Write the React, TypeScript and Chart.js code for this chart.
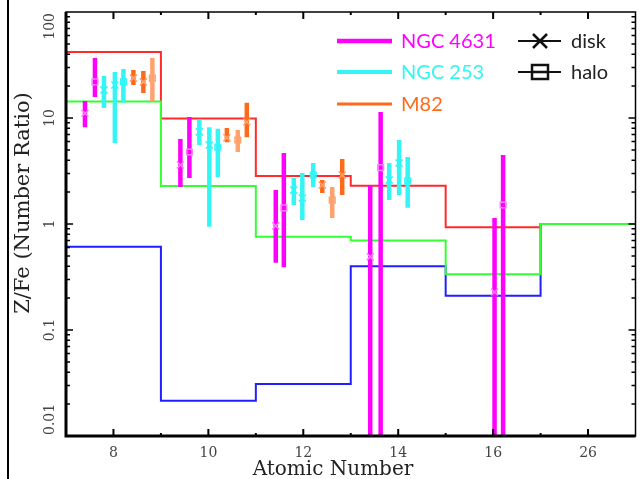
import React, { useEffect, useRef } from 'react';
import { Chart, registerables } from 'chart.js';

Chart.register(...registerables);

// ---- axis ticks ----
const xTickValues = [8, 10, 12, 14, 16, 18];
const xTickLabels = ['8', '10', '12', '14', '16', '26'];
const yTickValues = [0.01, 0.1, 1, 10, 100];
const yTickLabels = ['0.01', '0.1', '1', '10', '100'];

// ---- model step lines (bin edges in atomic-number space) ----
const stepEdges = [7, 9, 11, 13, 15, 17, 19];
const redSteps = [42, 9.9, 2.84, 2.3, 0.93, 1];
const greenSteps = [14.3, 2.28, 0.76, 0.7, 0.335, 1];
const blueSteps = [0.61, 0.0215, 0.031, 0.4, 0.21, 1];

// ---- NGC 4631 ----
const n4631X = [7.4, 7.61, 9.41, 9.6, 11.42, 11.59, 13.41, 13.63, 16.03, 16.21];
const n4631Y = [11.1, 21.9, 3.6, 4.78, 0.96, 1.42, 0.49, 3.4, 0.228, 1.51];
const n4631Lo = [8.2, 15.8, 2.23, 2.72, 0.43, 0.39, 0.005, 0.005, 0.005, 0.005];
const n4631Hi = [14.5, 36.8, 6.34, 10.2, 2.09, 4.67, 2.33, 11.4, 1.14, 4.48];
const n4631Kind = ['disk', 'halo', 'disk', 'halo', 'disk', 'halo', 'disk', 'halo', 'disk', 'halo'];

// ---- NGC 253 ----
const n253X = [7.8, 8.03, 8.21, 9.81, 10.02, 10.2, 11.8, 11.98, 12.21, 13.81, 14.02, 14.2];
const n253Y = [18.4, 20.5, 21.9, 7.4, 5.56, 5.3, 2.09, 1.76, 2.9, 2.6, 3.76, 2.55];
const n253Lo = [12.4, 5.8, 13.9, 5.56, 0.94, 2.78, 1.51, 1.09, 2.23, 1.68, 1.88, 1.42];
const n253Hi = [24.9, 27.2, 29, 9.56, 8.2, 7.9, 2.72, 3.03, 3.76, 3.76, 6.2, 4.29];
const n253Kind = ['disk', 'disk', 'halo', 'disk', 'disk', 'halo', 'disk', 'disk', 'halo', 'disk', 'disk', 'halo'];

// ---- M82 ----
const m82X = [8.42, 8.63, 8.82, 10.39, 10.62, 10.81, 12.4, 12.61, 12.82];
const m82Y = [23.8, 21.9, 23.8, 6.5, 6.2, 9.17, 2.33, 1.68, 2.9];
const m82Lo = [20.5, 17.2, 14.5, 5.9, 4.78, 6.6, 1.96, 1.14, 1.88];
const m82Hi = [28.4, 27.7, 36.8, 8.05, 7.7, 13.9, 2.6, 2.23, 4.1];
const m82Kind = ['disk', 'disk', 'halo', 'disk', 'halo', 'disk', 'disk', 'halo', 'disk'];

const galaxies = [
  { name: 'NGC 4631', color: '#ff00ff', bar: '#ff00ff', mark: '#ff80ff', legendWidth: 4.5, x: n4631X, y: n4631Y, lo: n4631Lo, hi: n4631Hi, kind: n4631Kind },
  { name: 'NGC 253', color: '#33f5f5', bar: '#33f5f5', mark: '#33f5f5', legendWidth: 4, x: n253X, y: n253Y, lo: n253Lo, hi: n253Hi, kind: n253Kind },
  { name: 'M82', color: '#ff6a1a', bar: '#ffa26e', mark: '#ffa26e', legendWidth: 3, x: m82X, y: m82Y, lo: m82Lo, hi: m82Hi, kind: m82Kind },
];

const SERIF = '"DejaVu Serif", serif';
const SANS = 'Lato, "Noto Sans", sans-serif';

function stepData(steps: number[]) {
  return stepEdges.map((x, i) => ({ x, y: steps[Math.min(i, steps.length - 1)] }));
}

const errorBarPlugin = {
  id: 'errorBars',
  beforeDatasetDraw(chart: any, args: any) {
    const ds = chart.data.datasets[args.index];
    if (!ds.errorBars) return;
    const { ctx, chartArea } = chart;
    const xs = chart.scales.x;
    const ys = chart.scales.y;
    ctx.save();
    ctx.beginPath();
    ctx.rect(chartArea.left, chartArea.top, chartArea.right - chartArea.left, chartArea.bottom - chartArea.top);
    ctx.clip();
    ctx.strokeStyle = ds.barColor;
    ctx.lineWidth = 4.5;
    ctx.lineCap = 'butt';
    for (const p of ds.data) {
      const px = xs.getPixelForValue(p.x);
      const y1 = ys.getPixelForValue(p.lo);
      const y2 = ys.getPixelForValue(p.hi);
      ctx.beginPath();
      ctx.moveTo(px, y1);
      ctx.lineTo(px, y2);
      ctx.stroke();
    }
    ctx.restore();
  },
};

const decorPlugin = {
  id: 'decor',
  afterDraw(chart: any) {
    const { ctx, chartArea } = chart;
    const { left, right, top, bottom } = chartArea;
    const xs = chart.scales.x;
    const ys = chart.scales.y;
    ctx.save();

    // figure border at left
    ctx.fillStyle = '#000';
    ctx.fillRect(7, 0, 2, 479);

    // ticks
    ctx.strokeStyle = '#000';
    ctx.lineWidth = 2;
    for (let v = 8; v <= 18; v++) {
      const px = xs.getPixelForValue(v);
      const len = v % 2 === 0 ? 7 : 3;
      ctx.beginPath();
      ctx.moveTo(px, bottom);
      ctx.lineTo(px, bottom - len);
      ctx.moveTo(px, top);
      ctx.lineTo(px, top + len);
      ctx.stroke();
    }
    ctx.lineWidth = 1.5;
    for (let d = -2; d <= 1; d++) {
      for (let m = 1; m <= 9; m++) {
        const v = m * Math.pow(10, d);
        if (v <= 0.01) continue;
        const py = ys.getPixelForValue(v);
        const len = m === 1 ? 7 : 4;
        ctx.beginPath();
        ctx.moveTo(left, py);
        ctx.lineTo(left + len, py);
        ctx.moveTo(right, py);
        ctx.lineTo(right - len, py);
        ctx.stroke();
      }
    }

    // frame
    ctx.lineWidth = 1.5;
    ctx.strokeRect(left, top, right - left, bottom - top);
    ctx.lineWidth = 3;
    ctx.beginPath();
    ctx.moveTo(left, top);
    ctx.lineTo(left, bottom);
    ctx.lineTo(right, bottom);
    ctx.stroke();

    // y tick labels (rotated)
    ctx.font = `14px ${SERIF}`;
    ctx.fillStyle = '#444';
    ctx.textAlign = 'center';
    ctx.textBaseline = 'middle';
    yTickValues.forEach((v, i) => {
      const label = yTickLabels[i];
      const w = ctx.measureText(label).width;
      let py = ys.getPixelForValue(v);
      py = Math.max(top + w / 2 + 1, Math.min(bottom - w / 2 - 1, py));
      ctx.save();
      ctx.translate(50, py);
      ctx.rotate(-Math.PI / 2);
      ctx.fillText(label, 0, 0);
      ctx.restore();
    });

    // axis titles
    ctx.fillStyle = '#222';
    ctx.font = `21px ${SERIF}`;
    ctx.save();
    ctx.translate(24, 203);
    ctx.rotate(-Math.PI / 2);
    ctx.fillText('Z/Fe (Number Ratio)', 0, 0);
    ctx.restore();
    ctx.font = `20px ${SERIF}`;
    ctx.textBaseline = 'alphabetic';
    ctx.fillText('Atomic Number', 333, 475);

    // legend: galaxies
    ctx.textAlign = 'left';
    ctx.textBaseline = 'middle';
    ctx.font = `20px ${SANS}`;
    const rowY = [41, 72, 104];
    galaxies.forEach((g, i) => {
      ctx.strokeStyle = g.color;
      ctx.lineWidth = g.legendWidth;
      ctx.beginPath();
      ctx.moveTo(337, rowY[i]);
      ctx.lineTo(392, rowY[i]);
      ctx.stroke();
      ctx.fillStyle = g.color;
      ctx.fillText(g.name, 401, rowY[i] + 1);
    });

    // legend: disk / halo
    ctx.strokeStyle = '#111';
    ctx.lineWidth = 2;
    ctx.beginPath();
    ctx.moveTo(518, 41);
    ctx.lineTo(561, 41);
    ctx.moveTo(518, 72);
    ctx.lineTo(561, 72);
    ctx.stroke();
    ctx.lineWidth = 2.5;
    ctx.beginPath();
    ctx.moveTo(533, 34);
    ctx.lineTo(547, 48);
    ctx.moveTo(547, 34);
    ctx.lineTo(533, 48);
    ctx.stroke();
    ctx.fillStyle = '#fff';
    ctx.fillRect(532, 65, 16, 14);
    ctx.strokeRect(532, 65, 16, 14);
    ctx.beginPath();
    ctx.moveTo(532, 72);
    ctx.lineTo(548, 72);
    ctx.stroke();
    ctx.fillStyle = '#222';
    ctx.fillText('disk', 571, 42);
    ctx.fillText('halo', 571, 73);

    ctx.restore();
  },
};

export default function App() {
  const canvasRef = useRef<HTMLCanvasElement | null>(null);

  useEffect(() => {
    if (!canvasRef.current) return;

    const pointDatasets: any[] = [];
    galaxies.forEach((g) => {
      ['disk', 'halo'].forEach((kind) => {
        const data = g.x
          .map((x, i) => ({ x, y: g.y[i], lo: g.lo[i], hi: g.hi[i], kind: g.kind[i] }))
          .filter((p) => p.kind === kind);
        const isHalo = kind === 'halo';
        pointDatasets.push({
          label: `${g.name} ${kind}`,
          data,
          showLine: false,
          errorBars: true,
          barColor: isHalo ? g.bar : g.color,
          pointStyle: isHalo ? 'rect' : 'crossRot',
          pointRadius: isHalo ? 4 : 5,
          pointBorderWidth: 1.5,
          borderColor: g.mark,
          backgroundColor: 'rgba(0,0,0,0)',
          order: 1,
        });
      });
    });

    const stepStyle = { stepped: 'before', borderWidth: 2, pointRadius: 0, fill: false };

    const chart = new Chart(canvasRef.current, {
      type: 'line',
      data: {
        datasets: [
          { label: 'green', data: stepData(greenSteps), borderColor: '#33ff33', order: 3, ...stepStyle },
          { label: 'red', data: stepData(redSteps), borderColor: '#ff2a2a', order: 4, ...stepStyle },
          { label: 'blue', data: stepData(blueSteps), borderColor: '#1f1fff', order: 5, ...stepStyle },
          ...pointDatasets,
        ] as any,
      },
      options: {
        animation: false,
        responsive: false,
        devicePixelRatio: 1,
        layout: { padding: { top: 12, right: 3, left: 0, bottom: 0 } },
        plugins: { legend: { display: false }, tooltip: { enabled: false } },
        scales: {
          x: {
            type: 'linear',
            min: 7,
            max: 19,
            grid: { display: false },
            border: { display: false },
            afterBuildTicks: (scale: any) => {
              scale.ticks = xTickValues.map((v) => ({ value: v }));
            },
            afterFit: (scale: any) => {
              scale.height = 43;
            },
            ticks: {
              autoSkip: false,
              maxRotation: 0,
              minRotation: 0,
              padding: 1,
              color: '#444',
              font: { family: SERIF, size: 14 },
              callback: (value: any) => {
                const idx = xTickValues.indexOf(Number(value));
                return idx >= 0 ? xTickLabels[idx] : '';
              },
            },
          },
          y: {
            type: 'logarithmic',
            min: 0.01,
            max: 100,
            grid: { display: false },
            border: { display: false },
            ticks: { display: false },
            afterFit: (scale: any) => {
              scale.width = 66;
            },
          },
        },
      } as any,
      plugins: [errorBarPlugin, decorPlugin],
    });

    return () => chart.destroy();
  }, []);

  return (
    <div style={{ position: 'fixed', left: 0, top: 0, width: 642, height: 479, background: '#fff' }}>
      <canvas ref={canvasRef} width={642} height={479} style={{ display: 'block' }} />
    </div>
  );
}
